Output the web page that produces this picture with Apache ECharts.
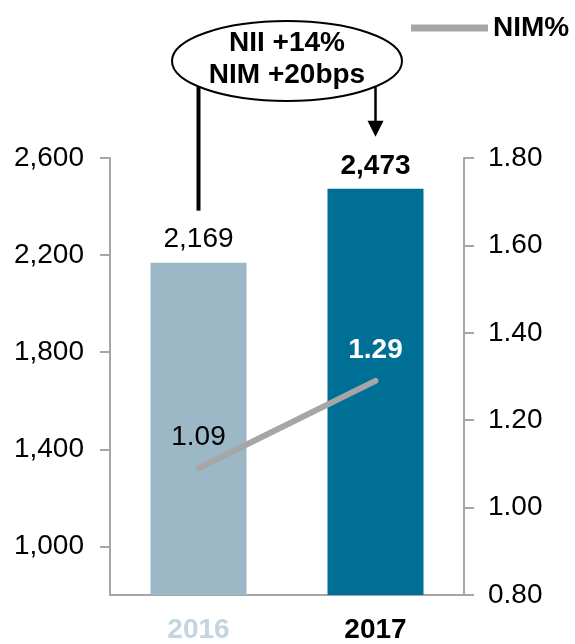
<!DOCTYPE html>
<html>
<head>
<meta charset="utf-8">
<script src="https://cdn.jsdelivr.net/npm/echarts@6/dist/echarts.min.js"></script>
<style>
html,body{margin:0;padding:0;background:#fff;}
#chart{width:575px;height:644px;}
</style>
</head>
<body>
<div id="chart"></div>
<script>
var categories = ['2016', '2017'];
var niiValues = [2169, 2473];
var nimValues = [1.09, 1.29];
var leftTicks = [1000, 1400, 1800, 2200, 2600];
var annotationLines = ['NII +14%', 'NIM +20bps'];
var legendName = 'NIM%';

var FONT = '"Liberation Sans", Arial, sans-serif';
var FS = 28;
var GRAY = '#a6a6a6';
var barColors = ['#9cb7c6', '#006f96'];

var chart = echarts.init(document.getElementById('chart'), null, {renderer: 'canvas'});

var option = {
  animation: false,
  backgroundColor: '#fff',
  textStyle: {fontFamily: FONT},
  grid: {left: 110, right: 111, top: 158, bottom: 48, containLabel: false},
  legend: {
    data: [{name: legendName, icon: 'rect'}],
    left: 406,
    top: 9,
    itemWidth: 77,
    itemHeight: 7,
    itemGap: 10,
    textStyle: {fontFamily: FONT, fontSize: 28, fontWeight: 'bold', color: '#000', padding: [0, 0, 0, 0]}
  },
  xAxis: {
    type: 'category',
    data: categories,
    axisLine: {show: true, lineStyle: {color: GRAY, width: 2}},
    axisTick: {show: false},
    axisLabel: {
      margin: 21,
      formatter: function (v, i) { return '{c' + i + '|' + v + '}'; },
      rich: {
        c0: {fontFamily: FONT, fontSize: 28, fontWeight: 'bold', color: '#c3d6e0'},
        c1: {fontFamily: FONT, fontSize: 28, fontWeight: 'bold', color: '#000'}
      }
    }
  },
  yAxis: [
    {
      type: 'value',
      min: 800,
      max: 2600,
      interval: 200,
      splitLine: {show: false},
      axisLine: {show: true, lineStyle: {color: GRAY, width: 2}},
      axisTick: {show: true, inside: false, length: 10, lineStyle: {color: GRAY, width: 2}, customValues: leftTicks},
      axisLabel: {
        customValues: leftTicks,
        margin: 26,
        fontFamily: FONT, fontSize: FS, color: '#000',
        formatter: function (v) { return v.toLocaleString('en-US'); }
      }
    },
    {
      type: 'value',
      min: 0.8,
      max: 1.8,
      interval: 0.2,
      position: 'right',
      splitLine: {show: false},
      axisLine: {show: true, lineStyle: {color: GRAY, width: 2}},
      axisTick: {show: true, inside: false, length: 10, lineStyle: {color: GRAY, width: 2}},
      axisLabel: {
        margin: 24,
        fontFamily: FONT, fontSize: FS, color: '#000',
        formatter: function (v) { return v.toFixed(2); }
      }
    }
  ],
  series: [
    {
      name: 'NII',
      type: 'bar',
      yAxisIndex: 0,
      barWidth: 96,
      data: niiValues.map(function (v, i) {
        return {
          value: v,
          itemStyle: {color: barColors[i]},
          label: {fontWeight: i === 1 ? 'bold' : 'normal'}
        };
      }),
      label: {
        show: true,
        position: 'top',
        distance: 9,
        fontFamily: FONT,
        fontSize: FS,
        color: '#000',
        formatter: function (p) { return p.value.toLocaleString('en-US'); }
      },
      z: 2
    },
    {
      name: legendName,
      type: 'line',
      yAxisIndex: 1,
      symbol: 'circle',
      symbolSize: 1,
      itemStyle: {color: GRAY},
      lineStyle: {color: GRAY, width: 6, cap: 'round'},
      data: nimValues.map(function (v, i) {
        return {
          value: v,
          label: i === 1 ? {color: '#fff', fontWeight: 'bold'} : {color: '#000', fontWeight: 'normal'}
        };
      }),
      label: {
        show: true,
        position: 'top',
        distance: 16,
        fontFamily: FONT,
        fontSize: FS,
        formatter: function (p) { return p.value.toFixed(2); }
      },
      z: 3
    }
  ]
};

chart.setOption(option);

// Annotation: ellipse + connectors anchored to the bars
var p0 = chart.convertToPixel({seriesIndex: 0}, [0, niiValues[0]]);
var p1 = chart.convertToPixel({seriesIndex: 0}, [1, niiValues[1]]);
var cx = 287, cy = 61, rx = 115, ry = 40;
function ellY(x) {
  var d = (x - cx) / rx;
  return cy + ry * Math.sqrt(Math.max(0, 1 - d * d));
}
var gap = 52;
var arrowTip = p1[1] - gap;
chart.setOption({
  graphic: [
    {
      type: 'ellipse',
      shape: {cx: cx, cy: cy, rx: rx, ry: ry},
      style: {fill: '#fff', stroke: '#000', lineWidth: 2},
      z: 10
    },
    {
      type: 'text',
      x: cx, y: 43,
      style: {text: annotationLines[0], fontFamily: FONT, fontSize: 28, fontWeight: 'bold', fill: '#000', align: 'center', verticalAlign: 'middle'},
      z: 11
    },
    {
      type: 'text',
      x: cx, y: 75,
      style: {text: annotationLines[1], fontFamily: FONT, fontSize: 28, fontWeight: 'bold', fill: '#000', align: 'center', verticalAlign: 'middle'},
      z: 11
    },
    {
      type: 'line',
      shape: {x1: p0[0], y1: ellY(p0[0]), x2: p0[0], y2: p0[1] - gap},
      style: {stroke: '#000', lineWidth: 4},
      z: 9
    },
    {
      type: 'line',
      shape: {x1: p1[0], y1: ellY(p1[0]), x2: p1[0], y2: arrowTip - 14},
      style: {stroke: '#000', lineWidth: 2.5},
      z: 9
    },
    {
      type: 'polygon',
      shape: {points: [[p1[0] - 8, arrowTip - 16], [p1[0] + 8, arrowTip - 16], [p1[0], arrowTip]]},
      style: {fill: '#000'},
      z: 9
    }
  ]
});
</script>
</body>
</html>
